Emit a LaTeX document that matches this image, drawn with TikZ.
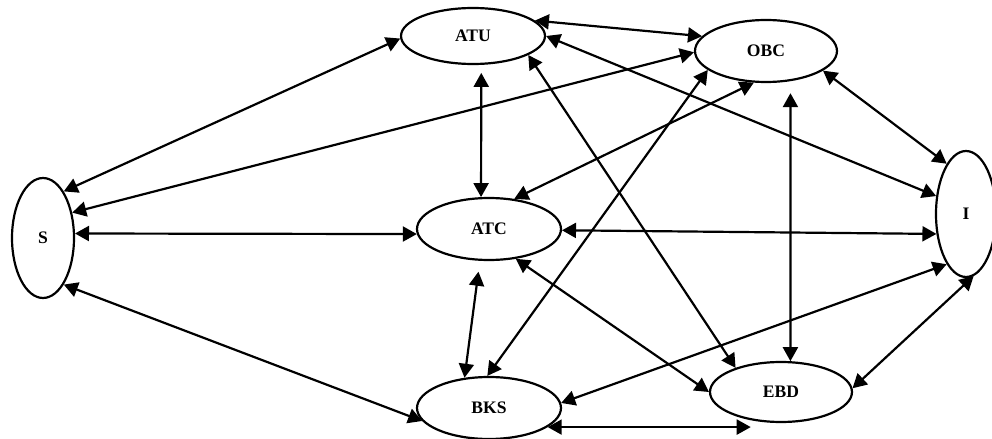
\documentclass[tikz,border=0pt]{standalone}
\usepackage{fontspec}
\setmainfont{Liberation Serif}
\usetikzlibrary{shapes.geometric,arrows.meta}
\begin{document}
\begin{tikzpicture}[x=0.02cm,y=-0.02cm,
  nd/.style={ellipse,draw,line width=1.25pt,inner sep=0pt,font=\fontsize{10}{12}\selectfont\bfseries},
  ed/.style={line width=1.25pt,{Triangle[length=0.28cm,width=0.3cm]}-{Triangle[length=0.28cm,width=0.3cm]}}]
\useasboundingbox (0,0) rectangle (992,439);
\node[nd,minimum width=2.88cm,minimum height=1.12cm] (ATU) at (473,36) {ATU};
\node[nd,minimum width=2.84cm,minimum height=1.24cm] (OBC) at (766,51) {OBC};
\node[nd,minimum width=1.24cm,minimum height=2.4cm] (S) at (43,238) {S};
\node[nd,minimum width=1.2cm,minimum height=2.52cm] (I) at (966,214) {I};
\node[nd,minimum width=2.88cm,minimum height=1.24cm] (ATC) at (489,229) {ATC};
\node[nd,minimum width=2.88cm,minimum height=1.24cm] (BKS) at (489,408) {BKS};
\node[nd,minimum width=2.84cm,minimum height=1.2cm] (EBD) at (781,392) {EBD};
\draw[ed] (S.66) -- (ATU.182);
\draw[ed] (S.41) -- (OBC.181);
\draw[ed] (S.8) -- (ATC.184);
\draw[ed] (S.294) -- (BKS.191);
\draw[ed] (ATU.14) -- (OBC.167);
\draw[ed,shorten <=0.16cm] (ATU.286) -- (ATC.104.5);
\draw[ed] (ATU.0) -- (I.149);
\draw[ed] (ATU.-19) -- (EBD.152);
\draw[ed] (OBC.249) -- (ATC.50);
\draw[ed] (OBC.198) -- (BKS.93);
\draw[ed,shorten <=0.24cm] (OBC.-51) -- (EBD.73);
\draw[ed] (OBC.-19) -- (I.111);
\draw[ed] (ATC.-1) -- (I.214);
\draw[ed,shorten <=0.22cm] (ATC.254) -- (BKS.129);
\draw[ed] (ATC.-48) -- (EBD.180);
\draw[ed] (BKS.4) -- (I.249);
\draw[ed] (BKS.-18) -- (BKS.-18 -| EBD.223);
\draw[ed] (EBD.3) -- (I.-83.5);
\end{tikzpicture}
\end{document}
